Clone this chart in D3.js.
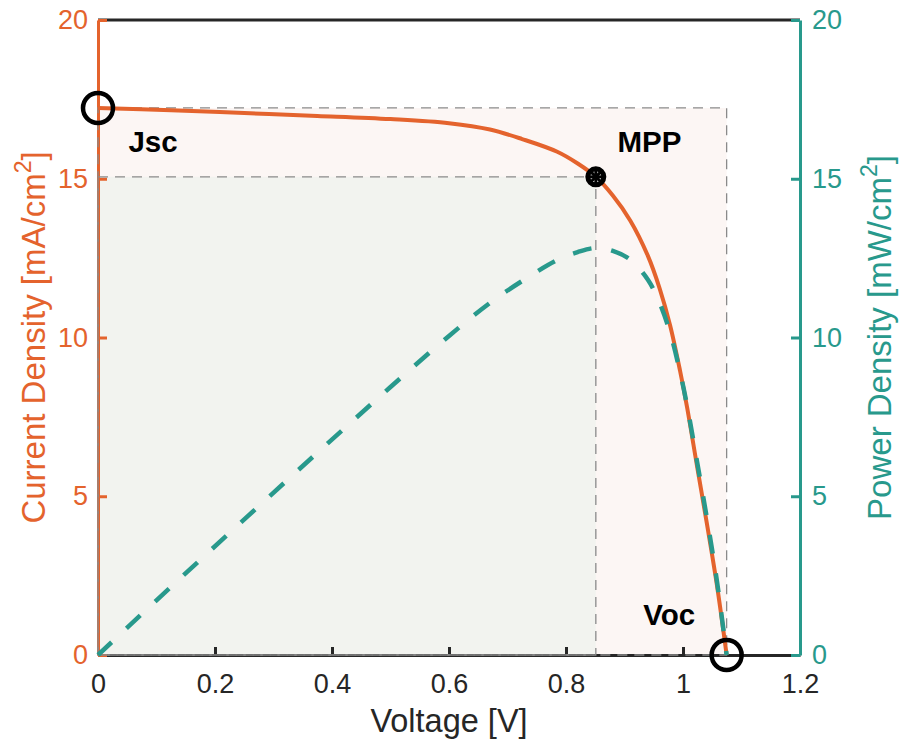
<!DOCTYPE html>
<html>
<head>
<meta charset="utf-8">
<script src="https://cdn.jsdelivr.net/npm/d3@7/dist/d3.min.js"></script>
<style>
  html, body { margin: 0; padding: 0; background: #fff; }
  svg { display: block; font-family: "Liberation Sans", Arial, Helvetica, sans-serif; }
</style>
</head>
<body>
<svg id="chart" width="899" height="744"></svg>
<script>
// J–V sweep of the cell: voltage [V] and current density [mA/cm²]
const voltage = [0, 0.125, 0.25, 0.375, 0.5, 0.6, 0.67, 0.725, 0.785, 0.82, 0.851, 0.88, 0.91, 0.94, 0.96, 0.978, 0.995, 1.007, 1.024, 1.041, 1.058, 1.0746];
const currentDensity = [17.23, 17.16, 17.07, 16.98, 16.88, 16.75, 16.55, 16.25, 15.85, 15.48, 15.06, 14.47, 13.68, 12.57, 11.55, 10.38, 8.95, 7.80, 5.95, 4.12, 2.20, 0];
// Output power density [mW/cm²] at the same voltages (V × J)
const powerDensity = [0, 2.15, 4.27, 6.37, 8.44, 10.05, 11.09, 11.78, 12.44, 12.69, 12.82, 12.73, 12.45, 11.82, 11.09, 10.15, 8.91, 7.85, 6.09, 4.29, 2.33, 0];

// Key operating points
const jsc = 17.23;   // short-circuit current density
const voc = 1.0746;  // open-circuit voltage
const vmp = 0.851;   // voltage at maximum power point
const jmp = 15.06;   // current density at maximum power point

const pointLabels = [
  { text: "Jsc", v: 0.052, j: 15.85 },
  { text: "MPP", v: 0.888, j: 15.85 },
  { text: "Voc", v: 0.932, j: 0.95 }
];

const xTicks = [0, 0.2, 0.4, 0.6, 0.8, 1, 1.2];
const xTickLabels = ["0", "0.2", "0.4", "0.6", "0.8", "1", "1.2"];
const yTicks = [0, 5, 10, 15, 20];
const yTickLabels = ["0", "5", "10", "15", "20"];

const ORANGE = "#e4632d";
const TEAL = "#28998c";
const DARK = "#262626";
const GREY_DASH = "#8a8a8a";

const margin = { left: 98, right: 99, top: 20, bottom: 89 };
const W = 899, H = 744;
const svg = d3.select("#chart");

const x = d3.scaleLinear().domain([0, 1.2]).range([margin.left, W - margin.right]);
const yJ = d3.scaleLinear().domain([0, 20]).range([H - margin.bottom, margin.top]);
const yP = d3.scaleLinear().domain([0, 20]).range([H - margin.bottom, margin.top]);

// Shaded areas: full Jsc×Voc box and the maximum power box
svg.append("rect")
  .attr("x", x(0)).attr("y", yJ(jsc))
  .attr("width", x(voc) - x(0)).attr("height", yJ(0) - yJ(jsc))
  .attr("fill", "#fcf6f4");
svg.append("rect")
  .attr("x", x(0)).attr("y", yJ(jmp))
  .attr("width", x(vmp) - x(0)).attr("height", yJ(0) - yJ(jmp))
  .attr("fill", "#f2f3ef");

// Axis frame: bottom and top in dark grey
const fs = 27;
const xAxis = svg.append("g")
  .attr("transform", `translate(0,${yJ(0)})`)
  .call(d3.axisBottom(x).tickValues(xTicks)
    .tickFormat((d, i) => xTickLabels[i])
    .tickSizeInner(-8).tickSizeOuter(0).tickPadding(19));
xAxis.select(".domain").attr("stroke", DARK).attr("stroke-width", 3);
xAxis.selectAll(".tick line").attr("stroke", DARK).attr("stroke-width", 3);
xAxis.selectAll(".tick text").attr("fill", DARK).attr("font-size", fs).attr("font-family", null);

svg.append("line")
  .attr("x1", x(0)).attr("x2", x(1.2))
  .attr("y1", yJ(20)).attr("y2", yJ(20))
  .attr("stroke", DARK).attr("stroke-width", 3);

// Left axis: current density
const leftAxis = svg.append("g")
  .attr("transform", `translate(${x(0)},0)`)
  .call(d3.axisLeft(yJ).tickValues(yTicks)
    .tickFormat((d, i) => yTickLabels[i])
    .tickSizeInner(-9).tickSizeOuter(0).tickPadding(10));
leftAxis.select(".domain").attr("stroke", ORANGE).attr("stroke-width", 3);
leftAxis.selectAll(".tick line").attr("stroke", ORANGE).attr("stroke-width", 3);
leftAxis.selectAll(".tick text").attr("fill", ORANGE).attr("font-size", fs).attr("font-family", null);

// Right axis: power density
const rightAxis = svg.append("g")
  .attr("transform", `translate(${x(1.2)},0)`)
  .call(d3.axisRight(yP).tickValues(yTicks)
    .tickFormat((d, i) => yTickLabels[i])
    .tickSizeInner(-9).tickSizeOuter(0).tickPadding(12));
rightAxis.select(".domain").attr("stroke", TEAL).attr("stroke-width", 3);
rightAxis.selectAll(".tick line").attr("stroke", TEAL).attr("stroke-width", 3);
rightAxis.selectAll(".tick text").attr("fill", TEAL).attr("font-size", fs).attr("font-family", null);

// Dashed guide outlines of both boxes
function dashedBox(v, j) {
  svg.append("path")
    .attr("d", `M${x(0)},${yJ(j)}H${x(v)}V${yJ(0)}H${x(0)}Z`)
    .attr("fill", "none")
    .attr("stroke", GREY_DASH)
    .attr("stroke-width", 1.3)
    .attr("stroke-dasharray", "10,7");
}
dashedBox(voc, jsc);
dashedBox(vmp, jmp);

// Curves
const smooth = d3.curveCatmullRom.alpha(0.5);
const jvLine = d3.line()
  .x((d, i) => x(voltage[i]))
  .y(d => yJ(d))
  .curve(smooth);
const pvLine = d3.line()
  .x((d, i) => x(voltage[i]))
  .y(d => yP(d))
  .curve(smooth);

svg.append("path")
  .attr("d", jvLine(currentDensity))
  .attr("fill", "none")
  .attr("stroke", ORANGE)
  .attr("stroke-width", 4);

svg.append("path")
  .attr("d", pvLine(powerDensity))
  .attr("fill", "none")
  .attr("stroke", TEAL)
  .attr("stroke-width", 4.5)
  .attr("stroke-dasharray", "19,20");

// Markers
svg.append("circle")
  .attr("cx", x(0)).attr("cy", yJ(jsc)).attr("r", 15)
  .attr("fill", "none").attr("stroke", "#000").attr("stroke-width", 4.5);
svg.append("circle")
  .attr("cx", x(voc)).attr("cy", yJ(0)).attr("r", 15)
  .attr("fill", "none").attr("stroke", "#000").attr("stroke-width", 4.5);

// Maximum power point: bold circle with an asterisk inside
const mpp = svg.append("g").attr("transform", `translate(${x(vmp)},${yJ(jmp)})`);
mpp.append("circle").attr("r", 8).attr("fill", "#fff").attr("stroke", "#000").attr("stroke-width", 5);
[0, 45, 90, 135].forEach(a => {
  const r = 7, t = a * Math.PI / 180;
  mpp.append("line")
    .attr("x1", -r * Math.cos(t)).attr("y1", -r * Math.sin(t))
    .attr("x2", r * Math.cos(t)).attr("y2", r * Math.sin(t))
    .attr("stroke", "#000").attr("stroke-width", 3);
});

// Point annotations
svg.selectAll("text.pt")
  .data(pointLabels)
  .join("text")
  .attr("class", "pt")
  .attr("x", d => x(d.v))
  .attr("y", d => yJ(d.j))
  .attr("font-size", 29.5)
  .attr("font-weight", "bold")
  .attr("fill", "#000")
  .text(d => d.text);

// Axis titles
svg.append("text")
  .attr("x", (x(0) + x(1.2)) / 2).attr("y", 732)
  .attr("text-anchor", "middle")
  .attr("font-size", 32.5)
  .attr("fill", DARK)
  .text("Voltage [V]");

function yTitle(cx, color, main) {
  const t = svg.append("text")
    .attr("transform", `translate(${cx},${(yJ(0) + yJ(20)) / 2}) rotate(-90)`)
    .attr("text-anchor", "middle")
    .attr("font-size", 33)
    .attr("fill", color);
  t.append("tspan").text(main);
  t.append("tspan").attr("font-size", 23).attr("dy", -14).text("2");
  t.append("tspan").attr("dy", 14).text("]");
}
yTitle(45, ORANGE, "Current Density [mA/cm");
yTitle(891, TEAL, "Power Density [mW/cm");
</script>
</body>
</html>
